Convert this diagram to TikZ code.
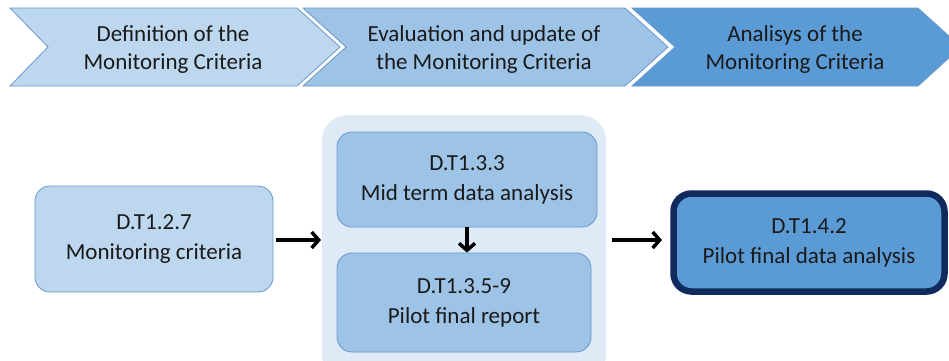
\documentclass[tikz,border=0pt]{standalone}
\usepackage{fontspec}
\setmainfont{Carlito}
\usetikzlibrary{arrows.meta}
\definecolor{cLight}{HTML}{BDD7EE}
\definecolor{cMid}{HTML}{9DC3E6}
\definecolor{cDark}{HTML}{5B9BD5}
\definecolor{cBorder}{HTML}{6A98CC}
\definecolor{cBack}{HTML}{DEEAF6}
\definecolor{cNavy}{HTML}{102A5E}
\definecolor{cText}{HTML}{1A1A1A}
\tikzset{
  chev/.style={draw=cBorder, line width=0.8pt, line join=miter},
  chevtext/.style={align=center, text=cText, font=\fontsize{23}{28}\selectfont},
  box/.style={draw=cBorder, line width=0.8pt, rounded corners=15pt, align=center,
    text=cText, font=\fontsize{23}{30}\selectfont, inner sep=0pt},
  conn/.style={line width=3.5pt, -{Straight Barb[length=7pt,width=16pt]}},
}
\begin{document}
\begin{tikzpicture}[x=1pt,y=-1pt]
\useasboundingbox (0,0) rectangle (949,360);
\clip (0,0) rectangle (949,360);
\fill[white] (0,0) rectangle (949,360);
% chevrons
\draw[chev, fill=cLight] (10,8) -- (297,8) -- (340,47) -- (297,86) -- (10,86) -- (48,47) -- cycle;
\draw[chev, fill=cMid] (303,8) -- (625,8) -- (668,47) -- (625,86) -- (303,86) -- (346,47) -- cycle;
\draw[chev, fill=cDark] (632,8) -- (918,8) -- (961,47) -- (918,86) -- (632,86) -- (675,47) -- cycle;
\node[chevtext] (t1) at (173,49) {Definition of the\\Monitoring Criteria};
\node[chevtext] (t2) at (484,49) {Evaluation and update of\\the Monitoring Criteria};
\node[chevtext] (t3) at (795,49) {Analisys of the\\Monitoring Criteria};
% container
\fill[cBack, rounded corners=26pt] (322,115) rectangle (606,380);
% boxes
\node[box, fill=cLight, minimum width=238pt, minimum height=106pt] (A) at (154,239) {D.T1.2.7\\Monitoring criteria};
\node[box, fill=cMid, minimum width=260pt, minimum height=95pt] (B) at (467,179.5) {D.T1.3.3\\Mid term data analysis};
\node[box, fill=cMid, minimum width=254pt, minimum height=99pt] (C) at (464,302.5) {D.T1.3.5-9\\Pilot final report};
\node[box, draw=cNavy, line width=6.5pt, rounded corners=18pt, fill=cDark, minimum width=271pt, minimum height=98pt] (D) at (809,242.5) {D.T1.4.2\\Pilot final data analysis};
% connectors
\coordinate (a1) at (276,240);
\coordinate (a2) at (321,240);
\coordinate (b1) at (612,240);
\coordinate (b2) at (662,240);
\draw[conn] (a1) -- (a2);
\draw[conn] (b1) -- (b2);
\draw[conn] (B.south -| 467,0) -- (C.north -| 467,0);
\end{tikzpicture}
\end{document}
